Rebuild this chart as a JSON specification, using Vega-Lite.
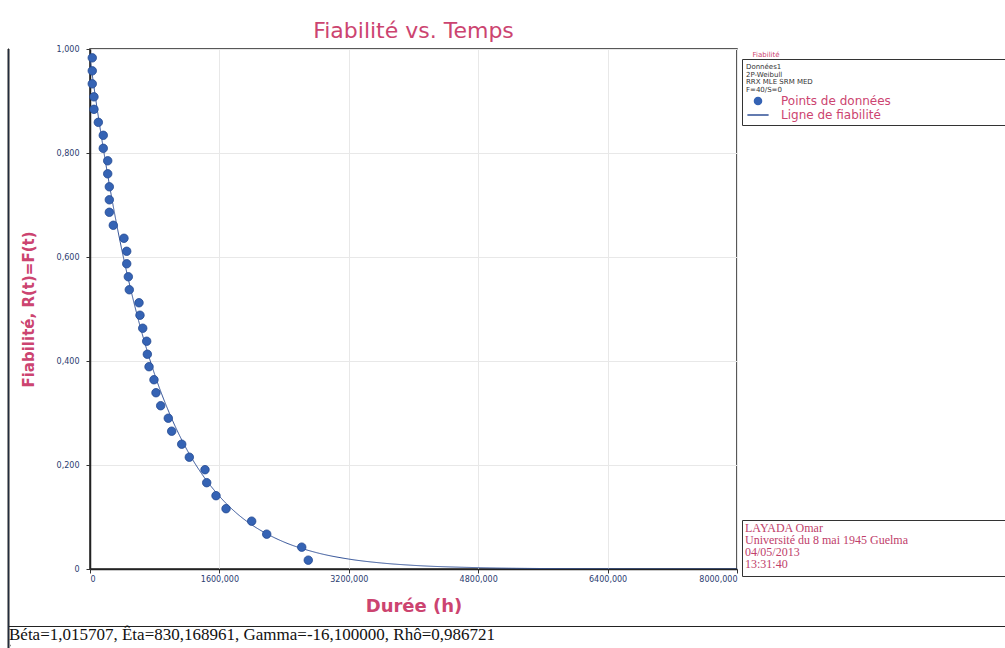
{
  "$schema": "https://vega.github.io/schema/vega-lite/v6.json",
  "width": 647,
  "height": 520,
  "autosize": "none",
  "padding": {"left": 90, "top": 49, "right": 268, "bottom": 79},
  "background": "#ffffff",
  "config": {
    "view": {"stroke": "#222222", "strokeWidth": 1.5},
    "font": "DejaVu Sans"
  },
  "title": {
    "text": "Fiabilité vs. Temps",
    "font": "DejaVu Sans",
    "fontSize": 22,
    "fontWeight": "normal",
    "color": "#cc4470",
    "anchor": "middle",
    "offset": 2
  },
  "datasets": {
    "points": [
      {"t": 28, "R": 0.983, "serie": "Points de données"},
      {"t": 28, "R": 0.958, "serie": "Points de données"},
      {"t": 28, "R": 0.933, "serie": "Points de données"},
      {"t": 49, "R": 0.908, "serie": "Points de données"},
      {"t": 49, "R": 0.884, "serie": "Points de données"},
      {"t": 103, "R": 0.859, "serie": "Points de données"},
      {"t": 164, "R": 0.834, "serie": "Points de données"},
      {"t": 164, "R": 0.809, "serie": "Points de données"},
      {"t": 219, "R": 0.785, "serie": "Points de données"},
      {"t": 219, "R": 0.760, "serie": "Points de données"},
      {"t": 239, "R": 0.735, "serie": "Points de données"},
      {"t": 239, "R": 0.710, "serie": "Points de données"},
      {"t": 239, "R": 0.686, "serie": "Points de données"},
      {"t": 288, "R": 0.661, "serie": "Points de données"},
      {"t": 420, "R": 0.636, "serie": "Points de données"},
      {"t": 454, "R": 0.611, "serie": "Points de données"},
      {"t": 454, "R": 0.587, "serie": "Points de données"},
      {"t": 474, "R": 0.562, "serie": "Points de données"},
      {"t": 486, "R": 0.537, "serie": "Points de données"},
      {"t": 606, "R": 0.512, "serie": "Points de données"},
      {"t": 618, "R": 0.488, "serie": "Points de données"},
      {"t": 652, "R": 0.463, "serie": "Points de données"},
      {"t": 701, "R": 0.438, "serie": "Points de données"},
      {"t": 709, "R": 0.413, "serie": "Points de données"},
      {"t": 730, "R": 0.389, "serie": "Points de données"},
      {"t": 791, "R": 0.364, "serie": "Points de données"},
      {"t": 816, "R": 0.339, "serie": "Points de données"},
      {"t": 874, "R": 0.314, "serie": "Points de données"},
      {"t": 968, "R": 0.290, "serie": "Points de données"},
      {"t": 1010, "R": 0.265, "serie": "Points de données"},
      {"t": 1134, "R": 0.240, "serie": "Points de données"},
      {"t": 1228, "R": 0.215, "serie": "Points de données"},
      {"t": 1422, "R": 0.191, "serie": "Points de données"},
      {"t": 1443, "R": 0.166, "serie": "Points de données"},
      {"t": 1558, "R": 0.141, "serie": "Points de données"},
      {"t": 1682, "R": 0.116, "serie": "Points de données"},
      {"t": 1999, "R": 0.092, "serie": "Points de données"},
      {"t": 2185, "R": 0.067, "serie": "Points de données"},
      {"t": 2618, "R": 0.042, "serie": "Points de données"},
      {"t": 2699, "R": 0.017, "serie": "Points de données"}
    ],
    "courbe": [
      {"t": 0, "R": 0.982, "serie": "Ligne de fiabilité"},
      {"t": 25, "R": 0.954, "serie": "Ligne de fiabilité"},
      {"t": 50, "R": 0.926, "serie": "Ligne de fiabilité"},
      {"t": 100, "R": 0.873, "serie": "Ligne de fiabilité"},
      {"t": 150, "R": 0.823, "serie": "Ligne de fiabilité"},
      {"t": 200, "R": 0.775, "serie": "Ligne de fiabilité"},
      {"t": 250, "R": 0.730, "serie": "Ligne de fiabilité"},
      {"t": 300, "R": 0.687, "serie": "Ligne de fiabilité"},
      {"t": 400, "R": 0.609, "serie": "Ligne de fiabilité"},
      {"t": 500, "R": 0.540, "serie": "Ligne de fiabilité"},
      {"t": 600, "R": 0.478, "serie": "Ligne de fiabilité"},
      {"t": 700, "R": 0.423, "serie": "Ligne de fiabilité"},
      {"t": 800, "R": 0.374, "serie": "Ligne de fiabilité"},
      {"t": 1000, "R": 0.293, "serie": "Ligne de fiabilité"},
      {"t": 1200, "R": 0.229, "serie": "Ligne de fiabilité"},
      {"t": 1400, "R": 0.179, "serie": "Ligne de fiabilité"},
      {"t": 1600, "R": 0.140, "serie": "Ligne de fiabilité"},
      {"t": 1800, "R": 0.109, "serie": "Ligne de fiabilité"},
      {"t": 2000, "R": 0.085, "serie": "Ligne de fiabilité"},
      {"t": 2200, "R": 0.0665, "serie": "Ligne de fiabilité"},
      {"t": 2400, "R": 0.0518, "serie": "Ligne de fiabilité"},
      {"t": 2800, "R": 0.0315, "serie": "Ligne de fiabilité"},
      {"t": 3200, "R": 0.0191, "serie": "Ligne de fiabilité"},
      {"t": 3600, "R": 0.0116, "serie": "Ligne de fiabilité"},
      {"t": 4000, "R": 0.0070, "serie": "Ligne de fiabilité"},
      {"t": 4800, "R": 0.0026, "serie": "Ligne de fiabilité"},
      {"t": 5600, "R": 0.0009, "serie": "Ligne de fiabilité"},
      {"t": 6400, "R": 0.0003, "serie": "Ligne de fiabilité"},
      {"t": 7200, "R": 0.0001, "serie": "Ligne de fiabilité"},
      {"t": 8000, "R": 0.00005, "serie": "Ligne de fiabilité"}
    ]
  },
  "layer": [
    {
      "data": {"name": "courbe"},
      "mark": {"type": "line", "interpolate": "monotone", "strokeWidth": 1, "clip": true},
      "encoding": {
        "x": {
          "field": "t", "type": "quantitative",
          "scale": {"domain": [0, 8000], "nice": false},
          "axis": null
        },
        "y": {
          "field": "R", "type": "quantitative",
          "scale": {"domain": [0, 1], "nice": false},
          "axis": {
            "orient": "right", "domain": false, "ticks": false, "labels": false, "grid": false,
            "title": "Fiabilité", "titleX": 15, "titleY": 7, "titleAngle": 0,
            "titleAlign": "left", "titleBaseline": "alphabetic",
            "titleFont": "DejaVu Sans", "titleFontSize": 7, "titleFontWeight": "normal", "titleColor": "#cc4470"
          }
        },
        "color": {
          "field": "serie", "type": "nominal",
          "scale": {"domain": ["Points de données", "Ligne de fiabilité"], "range": ["#3563b4", "#2f4f96"]},
          "legend": {
            "orient": "none", "legendX": 652, "legendY": 42, "title": null,
            "labelFont": "DejaVu Sans", "labelFontSize": 12, "labelColor": "#cc4470", "labelLimit": 600,
            "labelOffset": 17, "symbolOffset": 6, "symbolSize": 50, "rowPadding": 1,
            "padding": 4,
            "encode": {"symbols": {"update": {"stroke": {"value": "#2f4f96"}, "strokeWidth": {"value": 1.5}, "fill": {"value": "#3563b4"}}}}
          }
        },
        "strokeDash": {
          "datum": "auteur",
          "scale": {"range": [[1, 0]]},
          "legend": {
            "orient": "none", "legendX": 652, "legendY": 471,
            "title": ["LAYADA Omar", "Université du 8 mai 1945   Guelma", "04/05/2013", "13:31:40"],
            "titleFont": "Liberation Serif", "titleFontSize": 12, "titleFontWeight": "normal", "titleColor": "#c0406a",
            "titleLineHeight": 12, "titlePadding": 0, "titleLimit": 400,
            "labelExpr": "' '", "labelFontSize": 1, "labelOffset": 280,
            "symbolOpacity": 0, "symbolSize": 1, "rowPadding": 0,
            "padding": 3, "strokeColor": "#333333"
          }
        },
        "opacity": {
          "datum": "params", "type": "ordinal",
          "scale": {"range": [1, 1]},
          "legend": {
            "orient": "none", "legendX": -82, "legendY": 577,
            "title": "Béta=1,015707, Êta=830,168961, Gamma=-16,100000, Rhô=0,986721",
            "titleFont": "Liberation Serif", "titleFontSize": 17, "titleFontWeight": "normal", "titleColor": "#111111",
            "titlePadding": 0, "titleLimit": 900,
            "labelExpr": "' '", "labelFontSize": 1, "labelOffset": 1000,
            "symbolOpacity": 0, "symbolSize": 1, "rowPadding": 0,
            "padding": 1, "strokeColor": "#222222"
          }
        }
      }
    },
    {
      "data": {"name": "points"},
      "mark": {"type": "point", "filled": true, "strokeWidth": 0.8, "opacity": 1},
      "encoding": {
        "x": {
          "field": "t", "type": "quantitative",
          "scale": {"domain": [0, 8000], "nice": false},
          "axis": {
            "orient": "bottom", "values": [0, 1600, 3200, 4800, 6400, 8000],
            "labelExpr": "datum.value === 0 ? '0' : replace(format(datum.value, '.3f'), '.', ',')",
            "labelFont": "DejaVu Sans", "labelFontSize": 8, "labelColor": "#2b3c70", "labelPadding": 2,
            "tickSize": 4, "tickColor": "#333333", "domainColor": "#222222", "domainWidth": 1.5,
            "grid": true, "gridColor": "#e8e8e8", "gridWidth": 1,
            "title": "Durée (h)", "titleFont": "DejaVu Sans", "titleFontSize": 18, "titleFontWeight": "bold",
            "titleColor": "#cc4470", "titleY": 37, "titleBaseline": "middle"
          }
        },
        "y": {
          "field": "R", "type": "quantitative",
          "scale": {"domain": [0, 1], "nice": false},
          "axis": {
            "orient": "left", "values": [0, 0.2, 0.4, 0.6, 0.8, 1],
            "labelExpr": "datum.value === 0 ? '0' : replace(format(datum.value, '.3f'), '.', ',')",
            "labelFont": "DejaVu Sans", "labelFontSize": 8, "labelColor": "#2b3c70", "labelPadding": 7,
            "tickSize": 4, "tickColor": "#333333", "domainColor": "#222222", "domainWidth": 1.5,
            "grid": true, "gridColor": "#e8e8e8", "gridWidth": 1,
            "title": "Fiabilité, R(t)=F(t)", "titleFont": "DejaVu Sans", "titleFontSize": 15, "titleFontWeight": "bold",
            "titleColor": "#cc4470", "titleX": -62, "titleBaseline": "middle", "titleAngle": -90
          }
        },
        "color": {
          "field": "serie", "type": "nominal",
          "scale": {"domain": ["Points de données", "Ligne de fiabilité"], "range": ["#3563b4", "#2f4f96"]}
        },
        "shape": {
          "field": "serie", "type": "nominal",
          "scale": {"domain": ["Points de données", "Ligne de fiabilité"], "range": ["circle", "M-3,0H3"]}
        },
        "size": {
          "datum": "cadre", "type": "ordinal",
          "scale": {"range": [72, 72]},
          "legend": {
            "orient": "none", "legendX": 652, "legendY": 10,
            "title": ["Données1", "2P-Weibull", "RRX MLE SRM MED", "F=40/S=0"],
            "titleFont": "DejaVu Sans", "titleFontSize": 7, "titleFontWeight": "normal", "titleColor": "#333333",
            "titleLineHeight": 7.5, "titlePadding": 2, "titleLimit": 400,
            "labelExpr": "' '", "labelFontSize": 27, "labelOffset": 300,
            "symbolOpacity": 0, "rowPadding": 0,
            "padding": 4, "strokeColor": "#333333"
          }
        },
        "stroke": {
          "datum": 1, "type": "quantitative",
          "scale": {"domain": [0, 1], "range": ["#244a92", "#244a92"]},
          "legend": {
            "type": "gradient", "orient": "none", "legendX": -82, "legendY": 0,
            "direction": "vertical", "gradientLength": 600, "gradientThickness": 1,
            "gradientStrokeColor": "#222222", "gradientStrokeWidth": 1,
            "labelExpr": "''", "title": null, "padding": 0
          }
        }
      }
    }
  ],
  "resolve": {"axis": {"x": "independent", "y": "independent"}}
}
